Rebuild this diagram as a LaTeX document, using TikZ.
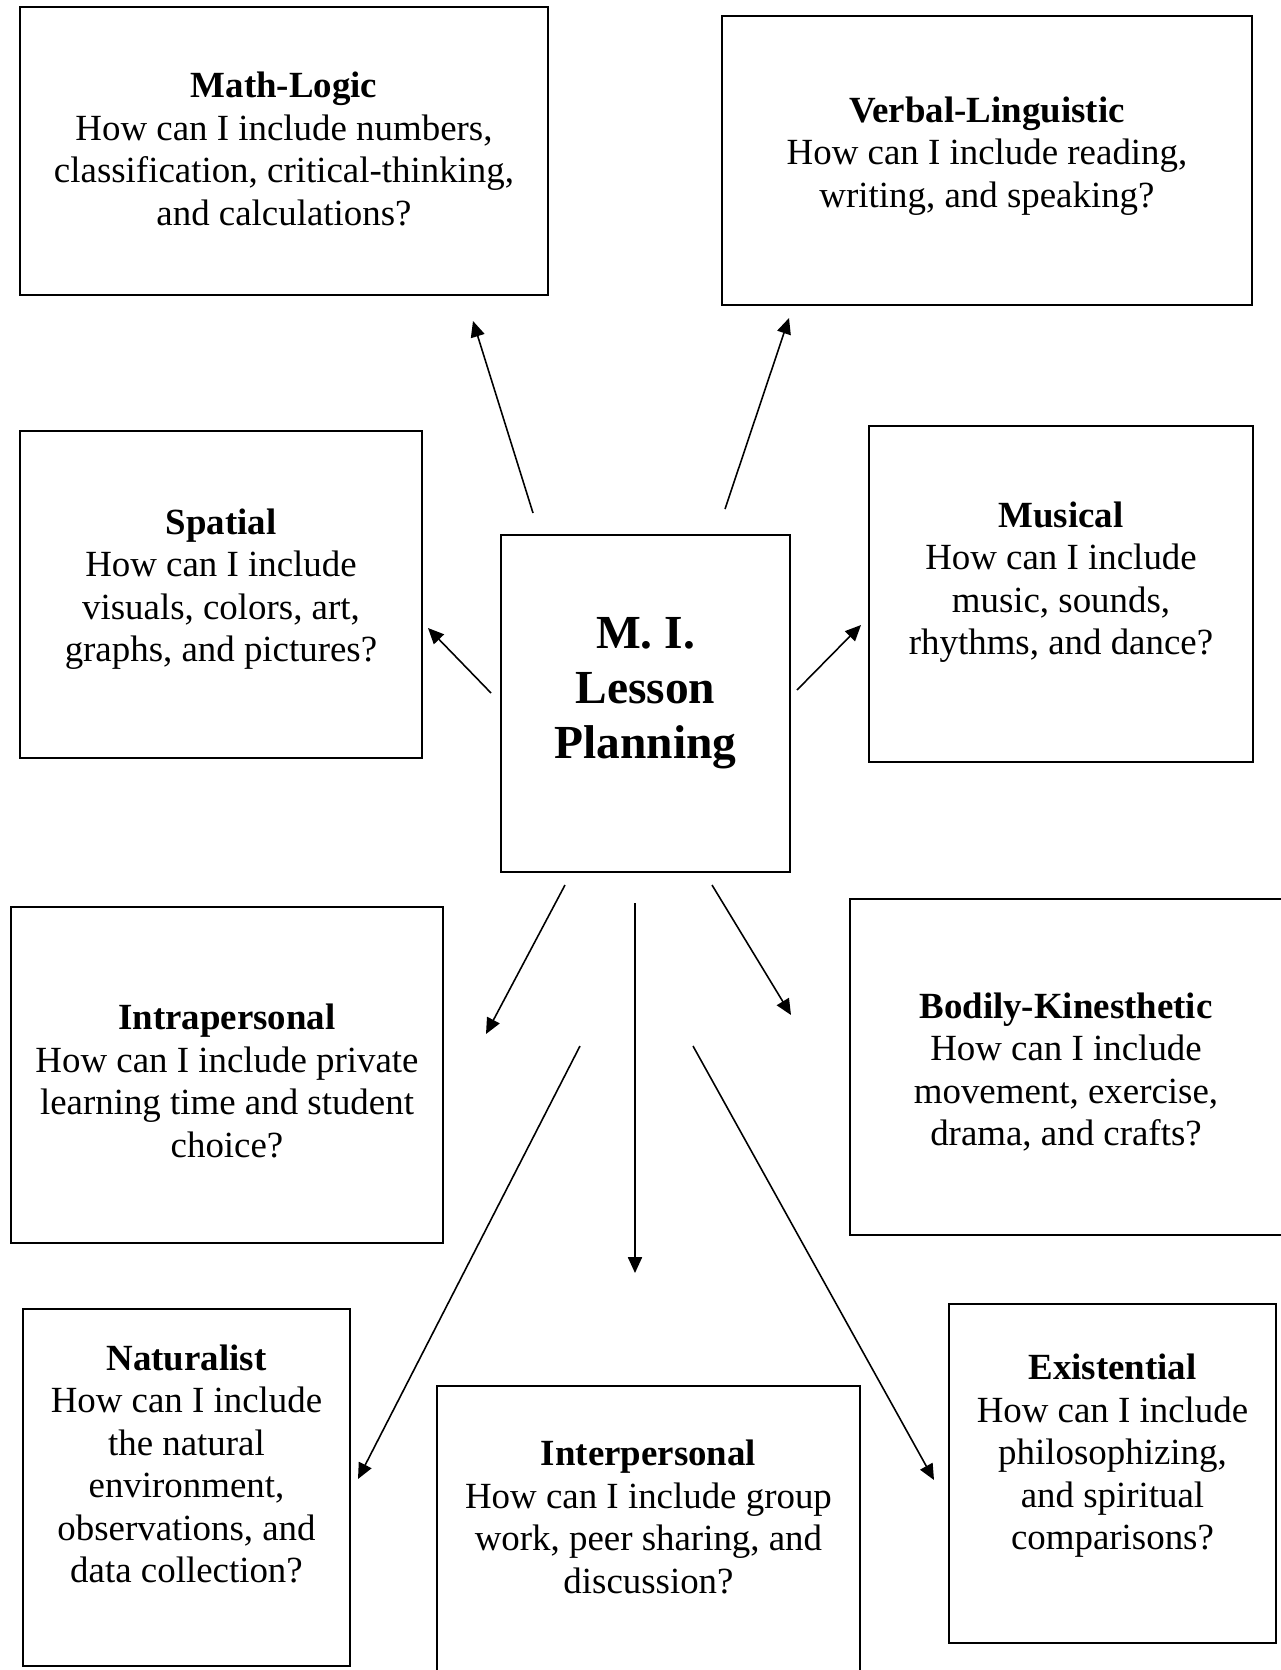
\documentclass[tikz,border=0pt]{standalone}
\usepackage{fontspec}
\setmainfont{Liberation Serif}
\usetikzlibrary{arrows.meta,positioning}

\begin{document}
\begin{tikzpicture}
[x = 0.02cm, y = -0.02cm,
 every node/.style = {font = \fontsize{21}{24.2}\selectfont, align = center},
 mibox/.style  = {draw, line width = 1.2pt, inner sep = 0pt},
 mitext/.style = {inner sep = 0pt},
 miarrow/.style = {-{Triangle[length=9pt,width=8pt]}, line width = 0.9pt}]

\useasboundingbox (0,0) rectangle (1281,1670);
\clip (0,0) rectangle (1281,1670);

%%%%%%%%%%% CENTRE
  \node[mibox, minimum width=5.78cm, minimum height=6.74cm] (mi) at (645.5,703.5) {};
  \node[mitext, font=\fontsize{27}{31.3}\selectfont\bfseries] (mitxt) at (645.5,693) {M. I.\\Lesson\\Planning};

%%%%%%%%%%% BOXES
  \node[mibox, minimum width=10.56cm, minimum height=5.76cm] (math) at (284,151) {};
  \node[mitext] (mathtxt) at (284,149) {\textbf{Math-Logic}\\How can I include numbers,\\classification, critical-thinking,\\and calculations?};

  \node[mibox, minimum width=10.6cm, minimum height=5.78cm] (verbal) at (987,160.5) {};
  \node[mitext] (verbaltxt) at (987,156) {\textbf{Verbal-Linguistic}\\How can I include reading,\\writing, and speaking?};

  \node[mibox, minimum width=8.04cm, minimum height=6.54cm] (spatial) at (221,594.5) {};
  \node[mitext] (spatialtxt) at (221,589) {\textbf{Spatial}\\How can I include\\visuals, colors, art,\\graphs, and pictures?};

  \node[mibox, minimum width=7.68cm, minimum height=6.72cm] (musical) at (1061,594) {};
  \node[mitext] (musicaltxt) at (1061,582) {\textbf{Musical}\\How can I include\\music, sounds,\\rhythms, and dance?};

  \node[mibox, minimum width=8.64cm, minimum height=6.72cm] (intra) at (227,1075) {};
  \node[mitext] (intratxt) at (227,1081) {\textbf{Intrapersonal}\\How can I include private\\learning time and student\\choice?};

  \node[mibox, minimum width=8.68cm, minimum height=6.72cm] (bodily) at (1067,1067) {};
  \node[mitext] (bodilytxt) at (1066,1072) {\textbf{Bodily-Kinesthetic}\\How can I include\\movement, exercise,\\drama, and crafts?};

  \node[mibox, minimum width=6.54cm, minimum height=7.14cm] (natural) at (186.5,1487.5) {};
  \node[mitext] (naturaltxt) at (186.5,1464) {\textbf{Naturalist}\\How can I include\\the natural\\environment,\\observations, and\\data collection?};

  \node[mibox, minimum width=8.46cm, minimum height=6.08cm] (inter) at (648.5,1538) {};
  \node[mitext] (intertxt) at (648.5,1517) {\textbf{Interpersonal}\\How can I include group\\work, peer sharing, and\\discussion?};

  \node[mibox, minimum width=6.54cm, minimum height=6.78cm] (exist) at (1112.5,1473.5) {};
  \node[mitext] (existtxt) at (1112.5,1456) {\textbf{Existential}\\How can I include\\philosophizing,\\and spiritual\\comparisons?};

%%%%%%%%%%% ARROW ENDS
  \coordinate (mathA)    at (533,513);  \coordinate (mathB)    at (473,321);
  \coordinate (verbalA)  at (725,509);  \coordinate (verbalB)  at (789,318);
  \coordinate (spatialA) at (491,693);  \coordinate (spatialB) at (428,628);
  \coordinate (musicalA) at (797,690);  \coordinate (musicalB) at (861,625);
  \coordinate (intraA)   at (565,885);  \coordinate (intraB)   at (486,1034);
  \coordinate (interA)   at (635,903);  \coordinate (interB)   at (635,1273);
  \coordinate (bodilyA)  at (712,885);  \coordinate (bodilyB)  at (791,1015);
  \coordinate (naturalA) at (580,1046); \coordinate (naturalB) at (358,1479);
  \coordinate (existA)   at (693,1046); \coordinate (existB)   at (934,1480);

%%%%%%%%%%% ARROWS
  \draw[miarrow] (mathA) -- (mathB);
  \draw[miarrow] (verbalA) -- (verbalB);
  \draw[miarrow] (spatialA) -- (spatialB);
  \draw[miarrow] (musicalA) -- (musicalB);
  \draw[miarrow] (intraA) -- (intraB);
  \draw[miarrow] (interA) -- (interB);
  \draw[miarrow] (bodilyA) -- (bodilyB);
  \draw[miarrow] (naturalA) -- (naturalB);
  \draw[miarrow] (existA) -- (existB);

\end{tikzpicture}
\end{document}
